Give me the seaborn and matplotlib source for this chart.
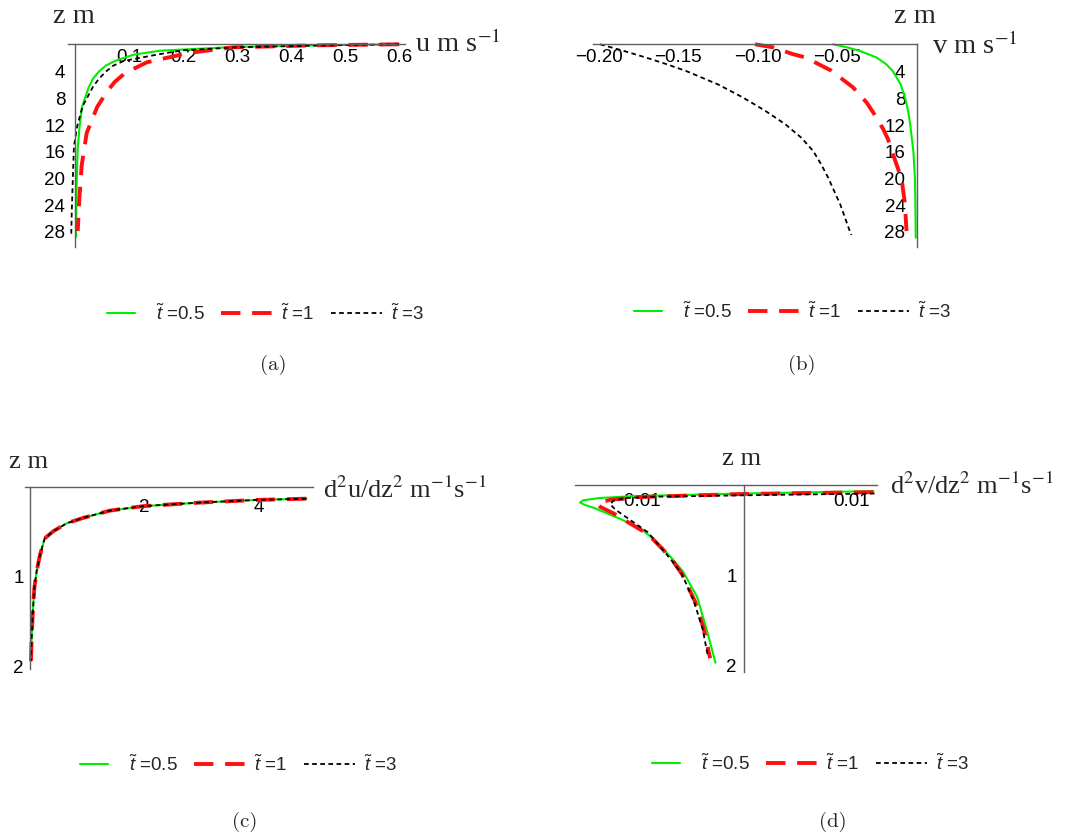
import numpy as np
import matplotlib
matplotlib.use("Agg")
import matplotlib.pyplot as plt
import seaborn as sns
from matplotlib.ticker import MultipleLocator
from matplotlib.legend_handler import HandlerLine2D

# ---------------- data ----------------
series_labels = [r"$\tilde{t}$ =0.5", r"$\tilde{t}$ =1", r"$\tilde{t}$ =3"]

# (a) u profile, u in m/s versus depth z in m
a_z_05 = [0, 0.1, 0.2, 0.42, 0.96, 1.57, 2.45, 3.2, 4.1, 5.2, 6.5, 9.4, 12.3, 15.7, 20.7, 25.0, 28.9]
a_u_05 = [0.6, 0.5, 0.42, 0.29, 0.157, 0.108, 0.075, 0.057, 0.044, 0.033, 0.025, 0.013, 0.0085, 0.005, 0.003, 0.0023, 0.0019]
a_z_1 = [0, 0.15, 0.45, 1.3, 2.7, 4.3, 5.6, 7.0, 9.4, 13.3, 18.2, 23.2, 28.0]
a_u_1 = [0.6, 0.45, 0.293, 0.21, 0.133, 0.093, 0.074, 0.06, 0.041, 0.0216, 0.0123, 0.008, 0.005]
a_z_3 = [0, 0.15, 0.45, 0.9, 1.5, 2.5, 3.2, 4.1, 5.2, 6.4, 9.3, 12.3, 15.3, 20.0, 25.0, 28.5]
a_u_3 = [0.6, 0.47, 0.3, 0.2, 0.155, 0.09, 0.071, 0.057, 0.044, 0.033, 0.014, 0.004, -0.002, -0.004, -0.006, -0.007]

# (b) v profile
b_z_05 = [0, 0.5, 1, 2, 3, 4, 6, 8, 10, 12, 16, 20, 24, 29]
b_v_05 = [-0.0525, -0.043, -0.0356, -0.025, -0.019, -0.015, -0.010, -0.0072, -0.0053, -0.004, -0.002, -0.001, -0.0007, -0.0005]
b_z_1 = [0, 0.46, 1.46, 1.96, 3.2, 3.96, 5.45, 6.45, 8.7, 10.2, 12.7, 14.2, 16.7, 20.2, 23.9, 28.0]
b_v_1 = [-0.1016, -0.090, -0.078, -0.070, -0.0598, -0.0535, -0.0455, -0.040, -0.0315, -0.0273, -0.021, -0.018, -0.0145, -0.0094, -0.0073, -0.0063]
b_z_3 = [0, 1, 2, 3, 4, 6, 8, 10, 12, 14, 16, 18, 20, 24, 28, 28.6]
b_v_3 = [-0.199, -0.184, -0.170, -0.157, -0.145, -0.125, -0.109, -0.095, -0.0825, -0.0725, -0.065, -0.060, -0.0556, -0.048, -0.042, -0.041]

# (c) second derivative of u (identical for all three times)
c_z = [0.136, 0.15, 0.18, 0.22, 0.27, 0.35, 0.41, 0.5, 0.58, 0.765, 0.95, 1.14, 1.44, 1.71, 1.95]
c_val = [4.84, 3.97, 2.97, 1.97, 1.39, 0.93, 0.64, 0.4, 0.25, 0.167, 0.108, 0.067, 0.038, 0.02, 0.009]

# (d) second derivative of v
d_z_05 = [0.074, 0.10, 0.13, 0.15, 0.175, 0.20, 0.225, 0.26, 0.29, 0.38, 0.49, 0.60, 0.71, 0.84, 0.97, 1.25, 1.62, 1.98]
d_val_05 = [0.0120, 0.0, -0.0104, -0.0135, -0.0150, -0.0153, -0.0149, -0.0140, -0.0134, -0.0116, -0.0097, -0.0085, -0.0076, -0.0066, -0.0057, -0.0044, -0.0035, -0.0027]
d_z_1 = [0.085, 0.105, 0.14, 0.17, 0.21, 0.25, 0.32, 0.40, 0.55, 0.72, 0.86, 1.0, 1.3, 1.6, 1.93]
d_val_1 = [0.0120, 0.0, -0.0100, -0.0125, -0.0137, -0.0134, -0.0122, -0.0111, -0.0090, -0.0076, -0.0066, -0.0058, -0.0046, -0.0038, -0.0032]
d_z_3 = [0.10, 0.12, 0.135, 0.15, 0.18, 0.22, 0.28, 0.38, 0.53, 0.74, 0.87, 1.0, 1.3, 1.6, 1.91]
d_val_3 = [0.0121, 0.0, -0.0080, -0.0110, -0.0122, -0.0125, -0.0120, -0.0108, -0.0090, -0.0075, -0.0066, -0.0058, -0.0047, -0.0039, -0.0034]

a_xticks = [0.1, 0.2, 0.3, 0.4, 0.5, 0.6]
a_xticklabels = ["0.1", "0.2", "0.3", "0.4", "0.5", "0.6"]
b_xticks = [-0.20, -0.15, -0.10, -0.05]
b_xticklabels = ["\u22120.20", "\u22120.15", "\u22120.10", "\u22120.05"]
ab_zticks = [4, 8, 12, 16, 20, 24, 28]
ab_zticklabels = ["4", "8", "12", "16", "20", "24", "28"]
c_xticks = [2, 4]
c_xticklabels = ["2", "4"]
d_xticks = [-0.01, 0.01]
d_xticklabels = ["\u22120.01", "0.01"]
cd_zticks = [1, 2]
cd_zticklabels = ["1", "2"]

# ---------------- style ----------------
sns.set_theme(style="white")
plt.rcParams["font.family"] = ["Liberation Sans", "DejaVu Sans"]
plt.rcParams["mathtext.fontset"] = "custom"
plt.rcParams["mathtext.rm"] = "Liberation Sans"
plt.rcParams["mathtext.it"] = "Liberation Sans:italic"

GREEN = "#00ee00"
RED = "#ff1010"
BLACK = "#000000"
AXIS_C = "#5e5e5e"
TICK_FS = 13.5
styles = [
    dict(color=GREEN, lw=1.5, ls="-"),
    dict(color=RED, lw=2.8, ls=(0, (5.0, 3.0))),
    dict(color=BLACK, lw=1.3, ls=(0, (2.6, 1.9))),
]

W, H = 1075, 837
fig = plt.figure(figsize=(W / 100, H / 100), dpi=100)


def place(l, t, r, b):
    return fig.add_axes([l / W, 1 - b / H, (r - l) / W, (b - t) / H])


def style_axes(ax, xlim, zmax, xticks, xlabels, zticks, zlabels, xpad, ypad):
    ax.set_xlim(*xlim)
    ax.set_ylim(zmax, 0)
    ax.patch.set_alpha(0)
    for s in ("top", "right"):
        ax.spines[s].set_visible(False)
    for s in ("left", "bottom"):
        ax.spines[s].set_position(("data", 0))
        ax.spines[s].set_color(AXIS_C)
        ax.spines[s].set_linewidth(1.0)
    ax.set_xticks(xticks, xlabels)
    ax.set_yticks(zticks, zlabels)
    ax.tick_params(axis="both", which="major", direction="in", length=5, width=0.8,
                   color=AXIS_C, labelsize=TICK_FS, labelcolor="black")
    ax.tick_params(axis="x", pad=xpad)
    ax.tick_params(axis="y", pad=ypad)
    ax.tick_params(axis="both", which="minor", direction="in", length=3, width=0.7, color=AXIS_C)
    ax.set_xlabel("")
    ax.set_ylabel("")
    ax.grid(False)


def draw(ax, xs, zs):
    for x, z, st in zip(xs, zs, styles):
        sns.lineplot(x=x, y=z, sort=False, estimator=None, ax=ax, legend=False,
                     color=st["color"], linewidth=st["lw"], linestyle=st["ls"],
                     clip_on=False)


class ShortLineHandler(HandlerLine2D):
    def __init__(self, frac, **kw):
        super().__init__(**kw)
        self.frac = frac

    def create_artists(self, legend, orig_handle, xdescent, ydescent, width, height, fontsize, trans):
        arts = super().create_artists(legend, orig_handle, xdescent, ydescent,
                                      width, height, fontsize, trans)
        for a in arts:
            xd = np.asarray(a.get_xdata(), float)
            if xd.size >= 2:
                mid = 0.5 * (xd.min() + xd.max())
                half = 0.5 * (xd.max() - xd.min()) * self.frac
                a.set_xdata(np.linspace(mid - half, mid + half, xd.size))
        return arts


def add_legend(ax, cx, cy):
    handles = ax.get_lines()[:3]
    fig.legend(handles, series_labels, loc="center", bbox_to_anchor=(cx / W, 1 - cy / H),
               ncol=3, frameon=False, fontsize=TICK_FS, handlelength=2.7, handletextpad=0.5,
               columnspacing=0.9, borderaxespad=0, borderpad=0,
               handler_map={handles[0]: ShortLineHandler(0.55)})


def label(x, y, s, size, ha):
    fig.text(x / W, 1 - y / H, s, family="Liberation Serif", math_fontfamily="stix",
             fontsize=size, ha=ha, va="baseline")


def caption(x, y, s):
    fig.text(x / W, 1 - y / H, s, family="cmr10", fontsize=15, ha="center", va="center")


# (a)
ax_a = place(68, 45.3, 405, 248)
draw(ax_a, [a_u_05, a_u_1, a_u_3], [a_z_05, a_z_1, a_z_3])
style_axes(ax_a, (-0.013, 0.611), 30.4, a_xticks, a_xticklabels, ab_zticks, ab_zticklabels, 2.5, 7)
ax_a.xaxis.set_minor_locator(MultipleLocator(0.02))
label(74, 23, "z m", 20.5, "center")
label(415, 52, r"u m s$^{-1}$", 20.5, "left")
add_legend(ax_a, 260, 314)
caption(273, 365, "(a)")

# (b)
ax_b = place(593, 45.3, 917, 248)
draw(ax_b, [b_v_05, b_v_1, b_v_3], [b_z_05, b_z_1, b_z_3])
style_axes(ax_b, (-0.2035, 0.0003), 30.4, b_xticks, b_xticklabels, ab_zticks, ab_zticklabels, 2.5, 8)
ax_b.xaxis.set_minor_locator(MultipleLocator(0.01))
label(915, 23, "z m", 20.5, "center")
label(932, 54, r"v m s$^{-1}$", 20.5, "left")
add_legend(ax_b, 787, 312)
caption(802, 365, "(b)")

# (c)
ax_c = place(25, 487.5, 313, 670)
draw(ax_c, [c_val, c_val, c_val], [c_z, c_z, c_z])
style_axes(ax_c, (-0.096, 4.956), 2.04, c_xticks, c_xticklabels, cd_zticks, cd_zticklabels, 8, 5)
label(28.5, 468, "z m", 19, "center")
label(323, 498, r"d$^2$u/dz$^2$ m$^{-1}$s$^{-1}$", 19, "left")
add_legend(ax_c, 233, 765)
caption(245, 822, "(c)")

# (d)
ax_d = place(575, 485.5, 877, 673)
draw(ax_d, [d_val_05, d_val_1, d_val_3], [d_z_05, d_z_1, d_z_3])
style_axes(ax_d, (-0.01577, 0.01233), 2.083, d_xticks, d_xticklabels, cd_zticks, cd_zticklabels, 5.5, 5.5)
label(742, 465, "z m", 19, "center")
label(890, 494, r"d$^2$v/dz$^2$ m$^{-1}$s$^{-1}$", 19, "left")
add_legend(ax_d, 805, 764)
caption(833, 822, "(d)")

fig.savefig("out.png", dpi=100, facecolor="white")
